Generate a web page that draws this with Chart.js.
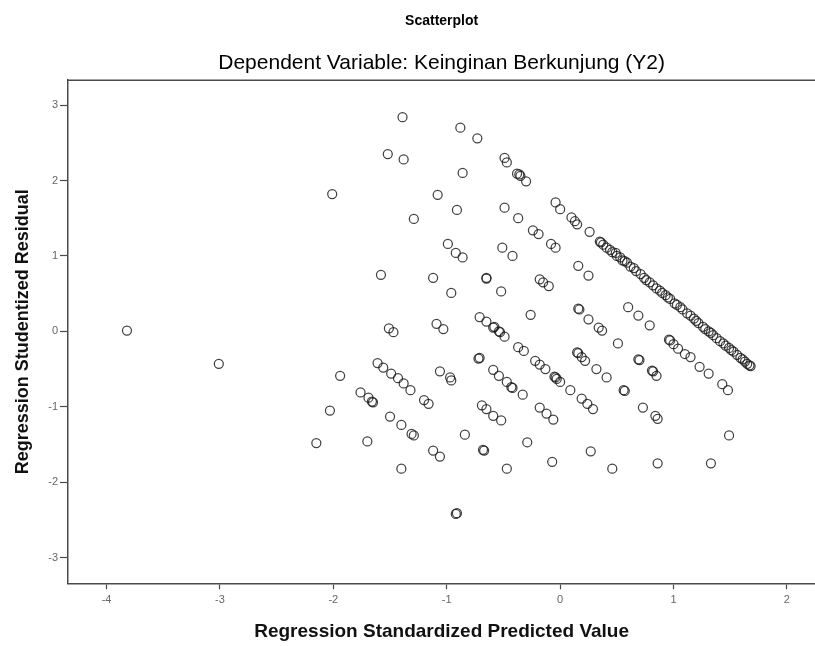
<!DOCTYPE html>
<html><head><meta charset="utf-8">
<script src="https://cdn.jsdelivr.net/npm/chart.js@4"></script>
<style>html,body{margin:0;padding:0;background:#fff;overflow:hidden;width:815px;height:646px}canvas{display:block}</style>
</head><body>
<canvas id="c" width="821" height="646"></canvas>
<script>
// Regression Standardized Predicted Value (x)
const predictedValues = [
  -3.82, -3.01,
  -1.39, -0.88, -0.73, -1.52, -1.38, -0.49, -0.47, -0.38, -0.35, -0.36, -0.30, -0.86, -2.01, -1.08, -0.91, -1.29, -0.49, -0.37,
  -0.24, -0.19, -0.04, 0.00, -0.08, -0.04, -0.99, -0.92, -0.86, -0.51, -0.42,
  0.10, 0.13, 0.15, 0.26, 0.35, 0.38, 0.41, 0.44, 0.49, 0.50, 0.53, 0.57, 0.59, 0.65, 0.67, 0.71, 0.76, 0.79, 0.82, 0.88,
  0.90, 0.93, 0.97, 1.01, 1.03, 1.06, 1.12, 1.15, 1.18, 1.22, 1.26, 1.28, 1.31, 1.35, 1.38, 1.41, 1.44, 1.49, 1.53, 1.56,
  1.59, 1.63, 1.65, 1.68,
  0.36, 0.46, 0.55, 0.62, 0.74, 0.85, 0.95, 1.08, 1.20, 1.33, 1.46, 1.51, 1.61, 1.67,
  0.16, 0.25, -0.18, -0.15, -0.10, 0.16, 0.17, 0.25, 0.34, 0.37, 0.60, 0.69, 0.79, 0.51, 0.96, 0.97, 1.00, 1.04, 1.10, 1.15,
  1.23, 1.31, 1.43, 1.48, 0.15, 0.16, 0.19, 0.22, 0.32, 0.41, 0.69, 0.70, 0.81, 0.82, 0.85, 0.56, 0.57, -0.22, -0.18, -0.13,
  -0.04, -0.05, -0.03, 0.00, 0.09, 0.19, 0.24, 0.29, 0.73, 0.84, 0.86, -0.18, -0.12, -0.06, 1.49, -0.07, 0.27, 0.46, 0.86, 1.33,
  -2.03, -2.15, -1.70, -1.76, -1.69, -1.65, -1.66, -1.50, -1.40, -1.31, -1.29, -1.20, -1.16, -1.12, -1.06, -1.40, -0.92, -0.91, -0.84, -0.68,
  -0.67, -0.47, -0.69, -0.65, -0.59, -0.52, -0.29,
  -1.58, -1.12, -0.96, -0.65, -0.65, -0.52, -0.26, -0.71, -0.65, -0.59, -0.58, -0.54, -0.53, -0.49, -1.51, -1.47, -1.09, -1.03, -0.37, -0.32,
  -0.72, -0.71, -0.59, -0.54, -0.47, -0.43, -0.42, -0.33, -1.06, -0.97, -0.96, -1.94, -1.61, -1.56, -1.49, -1.43, -1.38, -1.32
];
// Regression Studentized Residual (y)
const studentizedResiduals = [
  0.01, -0.43,
  2.84, 2.70, 2.56, 2.35, 2.28, 2.30, 2.24, 2.09, 2.06, 2.08, 1.99, 2.10, 1.82, 1.81, 1.61, 1.49, 1.64, 1.50,
  1.34, 1.29, 1.71, 1.62, 1.16, 1.11, 1.16, 1.04, 0.98, 1.11, 1.00,
  1.51, 1.46, 1.42, 1.32, 1.19, 1.15, 1.11, 1.08, 1.04, 1.00, 0.98, 0.93, 0.91, 0.84, 0.80, 0.76, 0.68, 0.65, 0.61, 0.54,
  0.51, 0.48, 0.43, 0.37, 0.35, 0.32, 0.24, 0.21, 0.17, 0.11, 0.06, 0.03, 0.00, -0.05, -0.09, -0.13, -0.16, -0.22, -0.27, -0.31,
  -0.35, -0.40, -0.43, -0.46,
  1.18, 1.05, 0.94, 0.86, 0.71, 0.57, 0.45, 0.29, 0.14, -0.02, -0.19, -0.25, -0.37, -0.45,
  0.87, 0.74, 0.69, 0.65, 0.60, 0.30, 0.29, 0.16, 0.05, 0.01, 0.32, 0.21, 0.08, -0.16, -0.11, -0.12, -0.17, -0.23, -0.30, -0.34,
  -0.47, -0.56, -0.70, -0.78, -0.28, -0.29, -0.34, -0.39, -0.50, -0.61, -0.37, -0.38, -0.52, -0.53, -0.59, -0.78, -0.79, -0.39, -0.44, -0.50,
  -0.61, -0.60, -0.63, -0.67, -0.78, -0.89, -0.96, -1.03, -1.01, -1.12, -1.16, -1.01, -1.09, -1.17, -1.38, -1.73, -1.59, -1.82, -1.75, -1.75,
  -1.05, -1.48, -1.46, -0.81, -0.88, -0.94, -0.93, -1.13, -1.24, -1.36, -1.38, -0.91, -0.96, -1.58, -1.66, -1.82, -2.42, -2.41, -1.37, -1.57,
  -1.58, -1.82, -0.98, -1.03, -1.12, -1.18, -1.47,
  0.75, 0.71, 0.51, 0.71, 0.70, 0.53, 0.22, 0.19, 0.13, 0.05, 0.06, 0.00, -0.01, -0.07, 0.04, -0.01, 0.10, 0.03, -0.21, -0.26,
  -0.36, -0.35, -0.51, -0.59, -0.67, -0.74, -0.75, -0.84, -0.53, -0.61, -0.65, -0.59, -0.42, -0.48, -0.56, -0.62, -0.69, -0.78
];
const xTickValues = [-4, -3, -2, -1, 0, 1, 2];
const yTickValues = [-3, -2, -1, 0, 1, 2, 3];
const chartTitle = 'Scatterplot';
const chartSubtitle = 'Dependent Variable: Keinginan Berkunjung (Y2)';
const xAxisTitle = 'Regression Standardized Predicted Value';
const yAxisTitle = 'Regression Studentized Residual';

const points = predictedValues.map((x, i) => ({x: x, y: studentizedResiduals[i]}));
const FONT = "'Liberation Sans', Arial, sans-serif";
const AXIS = '#4a4a4a';

const topFrame = {
  id: 'topFrame',
  afterDraw(chart) {
    const {ctx, chartArea: a} = chart;
    ctx.save();
    ctx.strokeStyle = AXIS;
    ctx.lineWidth = 1.5;
    ctx.beginPath();
    ctx.moveTo(a.left, a.top);
    ctx.lineTo(a.right, a.top);
    ctx.stroke();
    ctx.restore();
  }
};

new Chart(document.getElementById('c'), {
  type: 'scatter',
  data: {
    datasets: [{
      data: points,
      pointStyle: 'circle',
      pointRadius: 4.5,
      pointBorderWidth: 1.25,
      pointBackgroundColor: 'rgba(0,0,0,0)',
      pointBorderColor: 'rgba(25,25,25,0.82)',
      pointHoverRadius: 4.5
    }]
  },
  options: {
    responsive: false,
    animation: false,
    devicePixelRatio: 1,
    events: [],
    layout: {padding: {left: 0, right: 0, top: 0, bottom: 0}},
    plugins: {
      legend: {display: false},
      tooltip: {enabled: false},
      title: {
        display: true, text: chartTitle, fullSize: false, color: '#000',
        font: {family: FONT, size: 14, weight: 'bold'},
        padding: {top: 13, bottom: 10}
      },
      subtitle: {
        display: true, text: chartSubtitle, fullSize: false, color: '#000',
        font: {family: FONT, size: 21, weight: 'normal'},
        padding: {top: 10.6, bottom: 4.6}
      }
    },
    scales: {
      x: {
        type: 'linear', min: -4.34, max: 2.25,
        afterBuildTicks: s => { s.ticks = xTickValues.map(v => ({value: v})); },
        afterFit: s => { s.height = 62.7; s.paddingLeft = 0; s.paddingRight = 0; },
        grid: {display: true, drawOnChartArea: false, drawTicks: true, tickLength: 6, tickColor: AXIS, tickWidth: 1.2},
        border: {display: true, color: AXIS, width: 1.5},
        ticks: {color: '#666', font: {family: FONT, size: 11}, padding: 4, maxRotation: 0, autoSkip: false},
        title: {display: true, text: xAxisTitle, color: '#111',
          font: {family: FONT, size: 19, weight: 'bold'}, padding: {top: 0, bottom: 3}}
      },
      y: {
        type: 'linear', min: -3.34, max: 3.33,
        afterBuildTicks: s => { s.ticks = yTickValues.map(v => ({value: v})); },
        afterFit: s => { s.width = 68; s.paddingTop = 0; s.paddingBottom = 0; },
        grid: {display: true, drawOnChartArea: false, drawTicks: true, tickLength: 8, tickColor: AXIS, tickWidth: 1.2},
        border: {display: true, color: AXIS, width: 1.5},
        ticks: {color: '#666', font: {family: FONT, size: 11}, padding: 2, autoSkip: false},
        title: {display: true, text: yAxisTitle, color: '#111',
          font: {family: FONT, size: 18, weight: 'bold'}, padding: {top: 12.2, bottom: 0}}
      }
    }
  },
  plugins: [topFrame]
});
</script>
</body></html>
